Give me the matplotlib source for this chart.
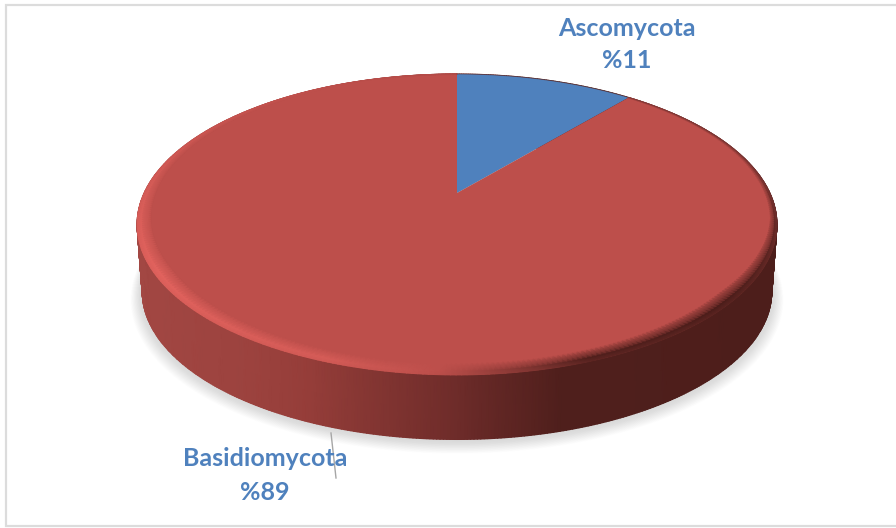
import numpy as np
import matplotlib
matplotlib.use('Agg')
from matplotlib import pyplot as plt
from matplotlib.colors import LinearSegmentedColormap
from matplotlib.patches import Polygon, Rectangle

names = ['Ascomycota', 'Basidiomycota']
percents = [11, 89]
slice_colors = ['#4f81bd', '#bd4f4b']

# how the rim catches the light going clockwise from the back of the disc
rim_angles = [0, 40, 75, 100, 130, 160, 180, 200, 240, 270, 300, 330, 360]
rim_light = [0.46, 0.42, 0.3, 0.12, 0.0, 0.02, 0.45, 0.82, 1.0, 0.85, 0.66, 0.52, 0.46]
# bevel width, as a fraction of the radius, at the same angles
rim_width = [0.006, 0.008, 0.012, 0.02, 0.05, 0.05, 0.05, 0.05, 0.05, 0.036, 0.02, 0.01, 0.006]

# side wall colour from left to right
wall_x = [137, 250, 350, 460, 560, 776]
wall_shade = [0.92, 0.8, 0.58, 0.36, 0.03, 0.0]

CX = 457
APEX_Y = 193
TILT = 0.209
A = 312.9
B = 143.9


def project(r, theta, scale=1.0, dy=0.0):
    # circle on the table -> screen, theta clockwise from the back
    u = r * np.sin(theta)
    v = r * np.cos(theta)
    d = 1 + TILT * v
    return CX + scale * A * u / d, APEX_Y + dy - scale * B * v / d


def slice_polygon(start, end):
    th = np.linspace(start, end, 300)
    x, y = project(1.0, th)
    return np.column_stack([np.r_[CX, x], np.r_[APEX_Y, y]])


fig = plt.figure(figsize=(8.96, 5.28), dpi=100)
ax = fig.add_axes([0, 0, 1, 1])
ax.set_xlim(0, 896)
ax.set_ylim(528, 0)
ax.axis('off')

ax.add_patch(Rectangle((6, 5), 900, 521, fc='white', ec='#dcdcdc', lw=1.6))

# soft shadow under the disc
theta = np.linspace(0, 2 * np.pi, 721)
for k in np.linspace(0, 1, 24):
    sx, sy = project(1.0, theta, scale=0.98 + 0.04 * k, dy=68 + 7 * k)
    ax.fill(sx, sy, color='#a0a0a0', alpha=0.017, lw=0, zorder=1)

# side wall
wall_cmap = LinearSegmentedColormap.from_list('wall', ['#4d1e1b', '#6a2a28', '#953d39', '#a64a46'])
x_top, y_top = project(1.0, theta)
x_low, y_low = project(1.0, theta, scale=0.984, dy=67.5)
X = np.vstack([x_top, x_low])
Y = np.vstack([y_top, y_low])
C = np.interp(X, wall_x, wall_shade)
ax.pcolormesh(X, Y, C, shading='gouraud', cmap=wall_cmap, vmin=0, vmax=1, zorder=2)

# top face slices
fractions = np.array(percents) / sum(percents)
edges = np.r_[0, np.cumsum(fractions)] * 2 * np.pi
for i in range(len(percents)):
    ax.add_patch(Polygon(slice_polygon(edges[i], edges[i + 1]), closed=True,
                         fc=slice_colors[i], ec='none', zorder=3))

# bevel along the rim of the large slice
bevel_cmap = LinearSegmentedColormap.from_list('bevel', ['#4a1d1a', '#bd4f4b', '#e4645f'])
th = np.linspace(edges[1], edges[2], 400)
light = np.interp(np.degrees(th), rim_angles, rim_light)
width = np.interp(np.degrees(th), rim_angles, rim_width)
radii = [1 - width, 1 - 0.3 * width, np.ones_like(th)]
values = [np.full_like(th, 0.5), light, 0.8 * light + 0.08]
bx = np.vstack([project(r, th)[0] for r in radii])
by = np.vstack([project(r, th)[1] for r in radii])
ax.pcolormesh(bx, by, np.vstack(values), shading='gouraud', cmap=bevel_cmap, vmin=0, vmax=1, zorder=4)

# thin dark edge along the back of the disc
th_back = np.linspace(0, np.radians(105), 200)
ex, ey = project(1.0, th_back)
ax.plot(ex, ey, color='#5b2c2c', lw=0.6, alpha=0.6, zorder=5)

# leader line and labels
ax.plot([331, 336], [433, 478], color='#a6a6a6', lw=1.0, zorder=6)
label_xy = [(627, 28), (265, 459)]
for name, pct, (lx, ly) in zip(names, percents, label_xy):
    ax.text(lx, ly, name, ha='center', va='center', color='#4f81bd',
            fontsize=18, fontweight='bold', family='Lato', zorder=7)
    ax.text(lx, ly + 33, '%' + str(pct), ha='center', va='center', color='#4f81bd',
            fontsize=18, fontweight='bold', family='Lato', zorder=7)

fig.savefig('out.png', dpi=100)
